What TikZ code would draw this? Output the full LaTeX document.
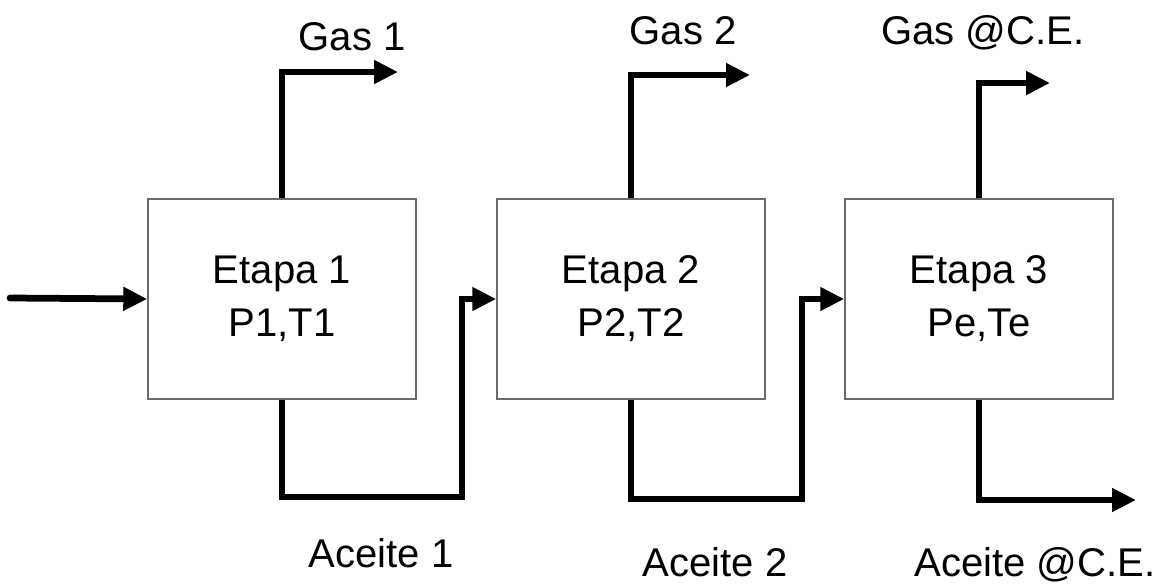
\documentclass[tikz,border=0pt]{standalone}
\usepackage{fontspec}
\setmainfont{Liberation Sans}
\usetikzlibrary{arrows.meta}
\definecolor{boxgray}{gray}{0.42}
\tikzset{
  etapa/.style={draw=boxgray, line width=1.1pt, minimum width=6.7cm, minimum height=5cm,
    inner sep=0pt, align=center, font=\fontsize{28.5}{37.7}\selectfont},
  flow/.style={line width=4.8pt, line join=miter, -{Triangle[length=17pt,width=16pt]}},
  corriente/.style={anchor=base, inner sep=0pt, font=\fontsize{28.5}{34}\selectfont}
}
\begin{document}
\begin{tikzpicture}[x=0.025cm, y=-0.025cm]
  \useasboundingbox (0,0) rectangle (1168,586);

  % Stages
  \node[etapa] (E1) at (282,299) {Etapa 1\\P1,T1};
  \node[etapa] (E2) at (631,299) {Etapa 2\\P2,T2};
  \node[etapa] (E3) at (979,299) {Etapa 3\\Pe,Te};

  % Free ends and bends
  \coordinate (feed) at (10,298);
  \coordinate (G1) at (398,72);
  \coordinate (G2) at (750,75);
  \coordinate (G3) at (1050,83);
  \coordinate (A1) at (462,497);
  \coordinate (A2) at (802,499);
  \coordinate (A3) at (1136,500);

  % Feed
  \draw[flow, line cap=round] (feed) -- (E1.west);

  % Gas outlets
  \draw[flow] (E1.north) |- (G1);
  \draw[flow] (E2.north) |- (G2);
  \draw[flow] (E3.north) |- (G3);

  % Oil outlets
  \draw[flow] (E1.south) |- (A1) |- (E2.west);
  \draw[flow] (E2.south) |- (A2) |- (E3.west);
  \draw[flow] (E3.south) |- (A3);

  % Labels
  \node[corriente] (g1) at (352,50) {Gas 1};
  \node[corriente] (g2) at (683,44) {Gas 2};
  \node[corriente] (g3) at (983,44) {Gas @C.E.};
  \node[corriente] (a1) at (381,567) {Aceite 1};
  \node[corriente] (a2) at (715,576) {Aceite 2};
  \node[corriente] (a3) at (1035,576) {Aceite @C.E.};
\end{tikzpicture}
\end{document}
